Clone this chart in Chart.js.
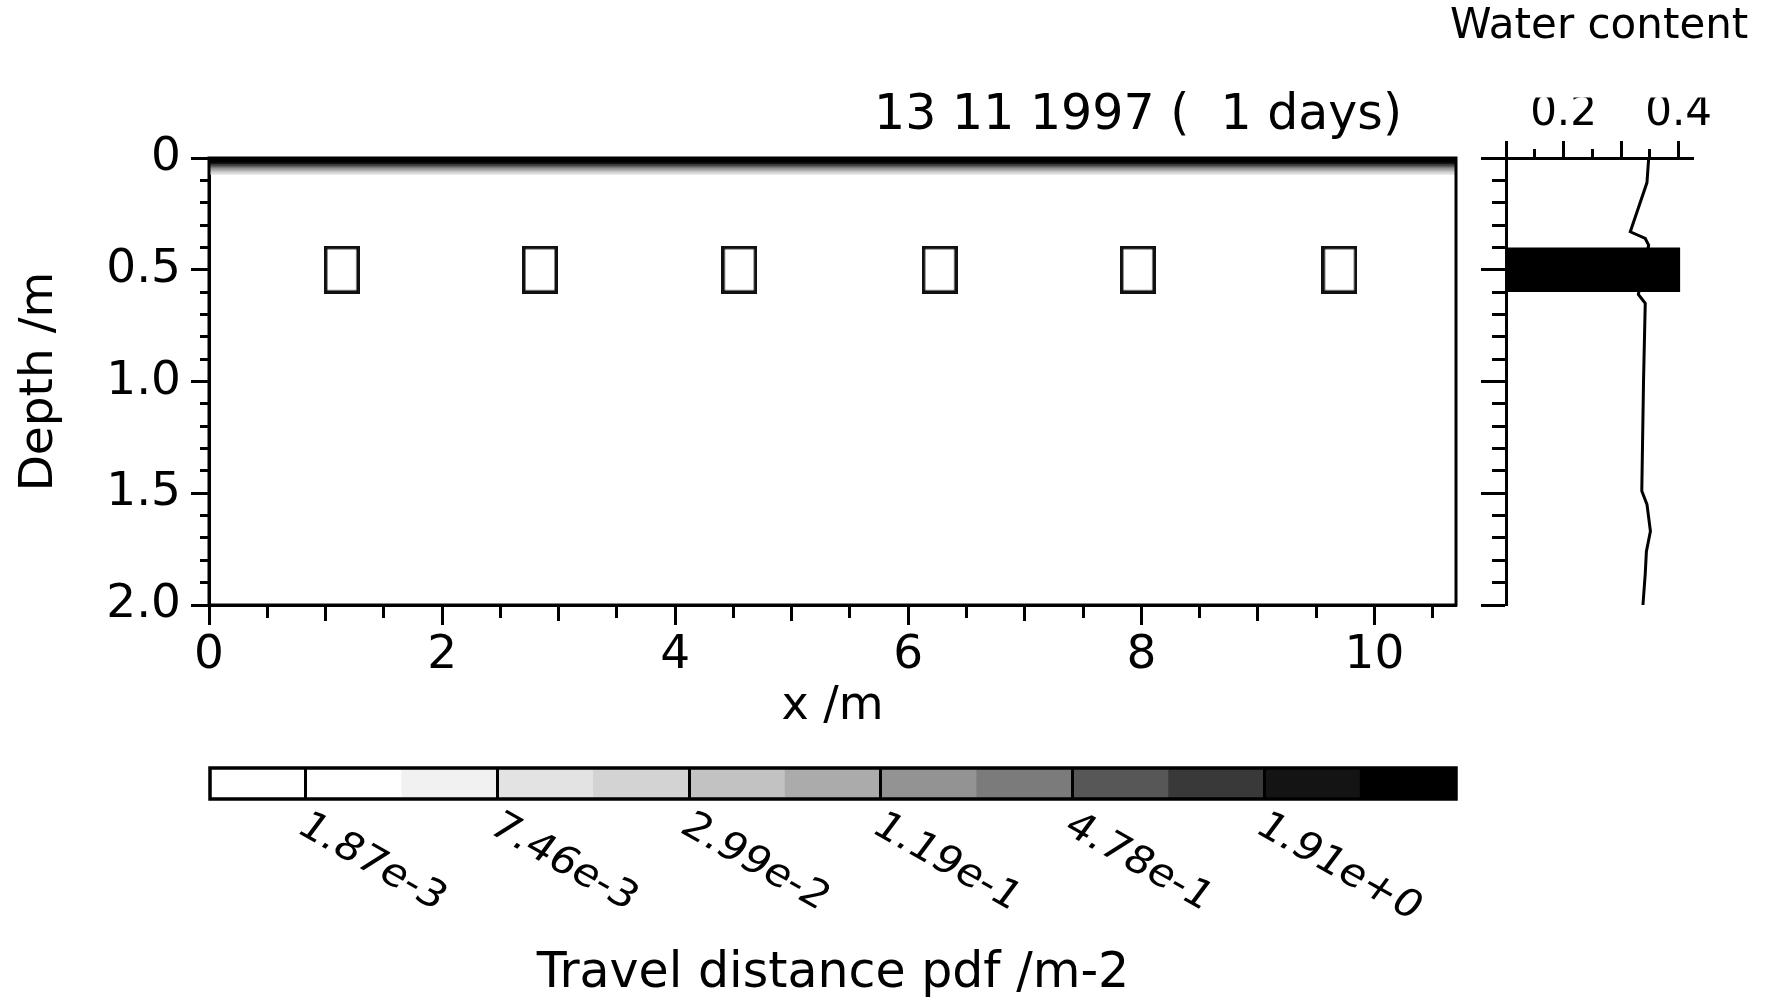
<!DOCTYPE html>
<html>
<head>
<meta charset="utf-8">
<script src="https://cdn.jsdelivr.net/npm/chart.js@4.4.1/dist/chart.umd.min.js"></script>
<style>
  html, body { margin: 0; padding: 0; background: #fff; }
  #wrap { position: relative; width: 1773px; height: 1007px; }
  #wrap canvas { position: absolute; left: 0; top: 0; }
</style>
</head>
<body>
<div id="wrap">
  <canvas id="mainChart" width="1773" height="1007"></canvas>
  <canvas id="waterChart" width="1773" height="1007"></canvas>
  <canvas id="barChart" width="1773" height="1007"></canvas>
</div>
<script>
const FONT = 'DejaVu Sans';

// main panel
const titleText = '13 11 1997 (  1 days)';
const xMax = 10.7;
const probeX = [1.14, 2.84, 4.55, 6.27, 7.97, 9.70];
const probeDepth = 0.5;
// surface band of the pdf: depth reached by each colour class, darkest first
const bandDepth = [0.02, 0.027, 0.033, 0.039, 0.045, 0.051, 0.057, 0.063, 0.069, 0.075];

// water content profile
const waterDepth = [0, 0.11, 0.33, 0.36, 0.39, 0.61, 0.65, 1.0, 1.49, 1.55, 1.67, 1.76, 1.86, 2.0];
const waterTheta = [0.348, 0.345, 0.316, 0.342, 0.348, 0.330, 0.342, 0.339, 0.336, 0.345, 0.351, 0.344, 0.342, 0.338];
const blockDepth = [0.4, 0.6];
const blockTheta = [0.1, 0.403];
const thetaLabels = [0.2, 0.4];

// colour bar
const classColors = ['#ffffff', '#ffffff', '#f1f1f1', '#e3e3e3', '#d3d3d3', '#c2c2c2', '#ababab',
                     '#939393', '#7b7b7b', '#575757', '#393939', '#141414', '#000000'];
const classEdges = [1, 3, 5, 7, 9, 11];
const classLabels = ['1.87e-3', '7.46e-3', '2.99e-2', '1.19e-1', '4.78e-1', '1.91e+0'];

Chart.defaults.font.family = FONT;
Chart.defaults.color = '#000';
Chart.defaults.animation = false;

const near = (v, step) => Math.abs(v / step - Math.round(v / step)) < 1e-6;

// short tick marks: dash from the axis (bottom) or from the outer end (left / top)
function shortTick(len, full, fromAxis) {
  return fromAxis ? [len, 1000] : [0, full - len, len, 1000];
}

const frame = {
  id: 'frame',
  afterDatasetsDraw(chart, args, opts) {
    const {ctx, chartArea: a} = chart;
    ctx.save();
    ctx.strokeStyle = '#000';
    ctx.lineWidth = opts.width || 3;
    ctx.strokeRect(a.left, a.top, a.right - a.left, a.bottom - a.top);
    ctx.restore();
  }
};

const dateLabel = {
  id: 'dateLabel',
  afterDraw(chart) {
    const {ctx, chartArea} = chart;
    ctx.save();
    ctx.font = '49px "' + FONT + '"';
    ctx.fillStyle = '#000';
    ctx.textAlign = 'right';
    ctx.textBaseline = 'middle';
    ctx.fillText(titleText, chartArea.right - 54, chartArea.top - 42);
    ctx.restore();
  }
};

function probeBox() {
  const c = document.createElement('canvas');
  c.width = 36;
  c.height = 48;
  const g = c.getContext('2d');
  g.strokeStyle = '#111';
  g.lineWidth = 3.5;
  g.strokeRect(1.75, 1.75, 32.5, 44.5);
  return c;
}

// ---------- main panel ----------
const bandSets = bandDepth.map((d, i) => ({
  data: [{x: 0, y: d}, {x: xMax, y: d}],
  borderColor: 'rgba(0,0,0,0)',
  borderWidth: 0,
  pointRadius: 0,
  fill: {value: 0},
  backgroundColor: classColors[classColors.length - 1 - i]
}));

new Chart(document.getElementById('mainChart'), {
  type: 'line',
  data: {
    datasets: [
      {
        data: probeX.map(x => ({x: x, y: probeDepth})),
        showLine: false,
        pointStyle: probeBox(),
        pointRadius: 5
      },
      ...bandSets
    ]
  },
  options: {
    responsive: false,
    layout: {padding: {left: 0, top: 158, right: 317, bottom: 267}},
    plugins: {legend: {display: false}, tooltip: {enabled: false}, frame: {width: 3}},
    scales: {
      x: {
        type: 'linear', min: 0, max: xMax,
        afterFit: s => { s.height = 135; },
        ticks: {
          stepSize: 0.5, autoSkip: false, includeBounds: false, maxRotation: 0, padding: 3,
          font: {size: 47},
          callback: v => near(v, 2) ? String(Math.round(v)) : ''
        },
        grid: {
          drawOnChartArea: false, tickLength: 20, tickWidth: 3, tickColor: '#000',
          tickBorderDash: c => !c.tick || near(c.tick.value, 2) ? [] :
            shortTick(near(c.tick.value, 1) ? 14 : 11, 20, true)
        },
        border: {color: '#000', width: 3},
        title: {display: true, text: 'x /m', font: {size: 46}, padding: {top: 0, bottom: 5}}
      },
      y: {
        type: 'linear', min: 0, max: 2, reverse: true,
        afterFit: s => { s.width = 209; },
        ticks: {
          stepSize: 0.1, autoSkip: false, includeBounds: false, padding: 10,
          font: {size: 47},
          callback: v => near(v, 0.5) ? (v === 0 ? '0' : v.toFixed(1)) : ''
        },
        grid: {
          drawOnChartArea: false, tickLength: 18, tickWidth: 3, tickColor: '#000',
          tickBorderDash: c => !c.tick || near(c.tick.value, 0.5) ? [] : shortTick(9, 18, false)
        },
        border: {color: '#000', width: 3},
        title: {display: true, text: 'Depth /m', font: {size: 47}, padding: {top: 12, bottom: 0}}
      }
    }
  },
  plugins: [frame, dateLabel]
});

// ---------- water content panel ----------
new Chart(document.getElementById('waterChart'), {
  type: 'line',
  data: {
    datasets: [
      {
        data: blockTheta.map(t => ({x: t, y: blockDepth[0]})),
        borderColor: 'rgba(0,0,0,0)', borderWidth: 0, pointRadius: 0, fill: false
      },
      {
        data: blockTheta.map(t => ({x: t, y: blockDepth[1]})),
        borderColor: 'rgba(0,0,0,0)', borderWidth: 0, pointRadius: 0,
        fill: '-1', backgroundColor: '#000'
      },
      {
        data: waterDepth.map((d, i) => ({x: waterTheta[i], y: d})),
        borderColor: '#000', borderWidth: 3, pointRadius: 0, tension: 0, fill: false
      }
    ]
  },
  options: {
    responsive: false,
    layout: {padding: {left: 1450, top: 0, right: 0, bottom: 402}},
    plugins: {
      legend: {display: false},
      tooltip: {enabled: false},
      title: {
        display: true, text: 'Water content', align: 'start',
        font: {size: 42, weight: 'normal'}, color: '#000',
        padding: {top: 2, bottom: 45}
      }
    },
    scales: {
      x: {
        type: 'linear', position: 'top', min: 0.1, max: 0.425,
        afterFit: s => { s.height = 158 - (42 * 1.2 + 47); },
        ticks: {
          stepSize: 0.05, autoSkip: false, includeBounds: false, maxRotation: 0, padding: 2,
          font: {size: 42},
          callback: v => thetaLabels.some(t => Math.abs(t - v) < 1e-6) ? v.toFixed(1) : ''
        },
        grid: {
          drawOnChartArea: false, tickLength: 17, tickWidth: 3, tickColor: '#000',
          tickBorderDash: c => !c.tick || near(c.tick.value, 0.1) ? [] : shortTick(9, 17, false)
        },
        border: {color: '#000', width: 3}
      },
      y: {
        type: 'linear', min: 0, max: 2, reverse: true,
        afterFit: s => { s.width = 56; },
        ticks: {stepSize: 0.1, autoSkip: false, includeBounds: false, display: false},
        grid: {
          drawOnChartArea: false, tickLength: 25, tickWidth: 3, tickColor: '#000',
          tickBorderDash: c => !c.tick || near(c.tick.value, 0.5) ? [] : shortTick(14, 25, false)
        },
        border: {color: '#000', width: 3}
      },
      pad: {
        type: 'linear', position: 'right', display: true,
        afterFit: s => { s.width = 80; },
        grid: {display: false}, border: {display: false}, ticks: {display: false}
      }
    }
  }
});

// ---------- colour bar ----------
const classTicks = {
  id: 'classTicks',
  afterDraw(chart) {
    const {ctx, chartArea, scales: {x}} = chart;
    ctx.save();
    ctx.font = '38px "' + FONT + '"';
    ctx.fillStyle = '#000';
    ctx.textAlign = 'left';
    ctx.textBaseline = 'top';
    x.ticks.forEach((t, i) => {
      ctx.save();
      ctx.translate(x.getPixelForValue(t.value) + 7, chartArea.bottom + 8);
      ctx.scale(1.15, 1);
      ctx.rotate(33 * Math.PI / 180);
      ctx.fillText(classLabels[i], 0, 0);
      ctx.restore();
    });
    ctx.restore();
  }
};

new Chart(document.getElementById('barChart'), {
  type: 'bar',
  data: {
    datasets: [{
      data: classColors.map((c, i) => ({x: i + 0.5, y: 1})),
      backgroundColor: classColors,
      borderWidth: 0,
      barPercentage: 1,
      categoryPercentage: 1
    }]
  },
  options: {
    responsive: false,
    layout: {padding: {left: 210, top: 768, right: 317, bottom: 0}},
    plugins: {legend: {display: false}, tooltip: {enabled: false}, frame: {width: 3.5}},
    scales: {
      x: {
        type: 'linear', min: 0, max: classColors.length, offset: false,
        afterBuildTicks: s => { s.ticks = classEdges.map(v => ({value: v})); },
        afterFit: s => { s.height = 208; },
        ticks: {display: false},
        grid: {offset: false, z: 1, drawOnChartArea: true, drawTicks: false, color: '#000', lineWidth: 3},
        border: {display: false},
        title: {display: true, text: 'Travel distance pdf /m-2', font: {size: 49}, padding: {top: 0, bottom: 3}}
      },
      y: {display: false, min: 0, max: 1}
    }
  },
  plugins: [frame, classTicks]
});
</script>
</body>
</html>
